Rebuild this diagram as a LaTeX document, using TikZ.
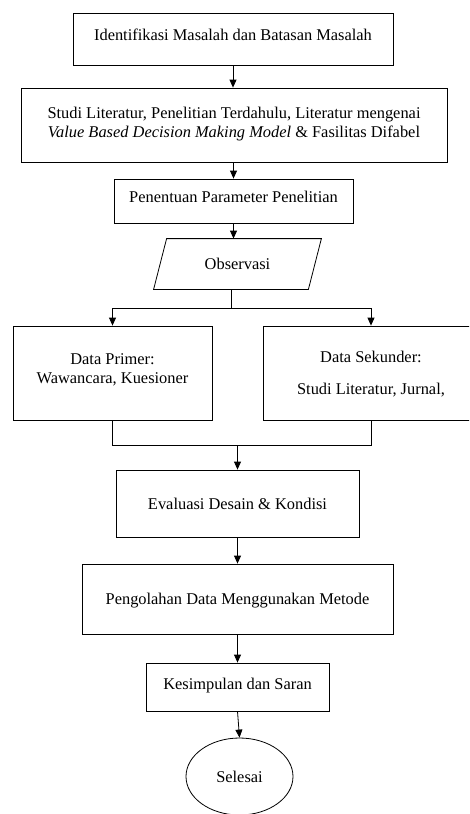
\documentclass[tikz,border=0pt]{standalone}
\usepackage{fontspec}
\setmainfont{Liberation Serif}
\usetikzlibrary{arrows.meta,shapes.geometric,calc}

\tikzset{
  box/.style={draw, rectangle, inner sep=0pt, align=center, text height=11pt, text depth=3.5pt},
  link/.style={-{Triangle[length=8pt,width=7pt]}},
}

\begin{document}
\begin{tikzpicture}[x=1pt, y=-1pt, line width=0.8pt, font=\fontsize{16.4}{19}\selectfont]
  \clip (0,0) rectangle (469,814);

  \node[box, minimum width=320pt, minimum height=52pt, text depth=8.4pt] (ident) at (233,39)
    {Identifikasi Masalah dan Batasan Masalah};
  \node[box, minimum width=426pt, minimum height=74pt, text height=30pt, text depth=5.4pt] (studi) at (234,125)
    {Studi Literatur, Penelitian Terdahulu, Literatur mengenai\\
     \textit{Value Based Decision Making Model} \& Fasilitas Difabel};
  \node[box, minimum width=239pt, minimum height=44pt, text depth=8.4pt] (param) at (233.5,201)
    {Penentuan Parameter Penelitian};
  % parallelogram: node body, slanted sides drawn below
  \node[inner sep=0pt, minimum width=154pt, minimum height=50pt, text height=11pt, text depth=0pt] (obs) at (237.5,264)
    {Observasi};
  \draw ($(obs.south west)+(-6.5,0)$) -- ($(obs.south east)+(-6.5,0)$)
     -- ($(obs.north east)+(6.5,0)$) -- ($(obs.north west)+(6.5,0)$) -- cycle;
  \node[box, minimum width=199pt, minimum height=94pt, text height=30pt, text depth=9.4pt] (prim) at (112.5,373)
    {Data Primer:\\ Wawancara, Kuesioner};
  \node[box, minimum width=216pt, minimum height=94pt, text height=43pt, text depth=0pt] (sek) at (371,373)
    {Data Sekunder:\\[13pt] Studi Literatur, Jurnal,};
  \node[box, minimum width=243pt, minimum height=67pt, text depth=0pt] (eval) at (237.5,503.5)
    {Evaluasi Desain \& Kondisi};
  \node[box, minimum width=311pt, minimum height=70pt, text depth=0pt] (olah) at (237.5,599)
    {Pengolahan Data Menggunakan Metode};
  \node[box, minimum width=183pt, minimum height=48pt, text depth=6.4pt] (kes) at (237.5,687)
    {Kesimpulan dan Saran};
  \node[draw, ellipse, inner sep=0pt, minimum width=107pt, minimum height=77pt] (sel) at (239.5,776.5)
    {Selesai};

  \draw[link] (ident.south) -- (ident.south |- studi.north);
  \draw[link] (param.north |- studi.south) -- (param.north);
  \draw[link] (param.south) -- (param.south |- obs.north);

  \coordinate (obsb) at ($(obs.south)+(-6.5,0)$);
  \coordinate (fork) at ($(obsb)+(0,19)$);
  \draw (obsb) -- (fork);
  \draw[link] (fork) -| (prim.north);
  \draw[link] (fork) -| (sek.north);

  \coordinate (join) at ($(prim.south)+(0,25)$);
  \draw (prim.south) -- (join) -| (sek.south);
  \draw[link] (join -| eval.north) -- (eval.north);

  \draw[link] (eval.south) -- (olah.north);
  \draw[link] (olah.south) -- (kes.north);
  \draw[link] (kes.south) -- (sel.north);
\end{tikzpicture}
\end{document}
